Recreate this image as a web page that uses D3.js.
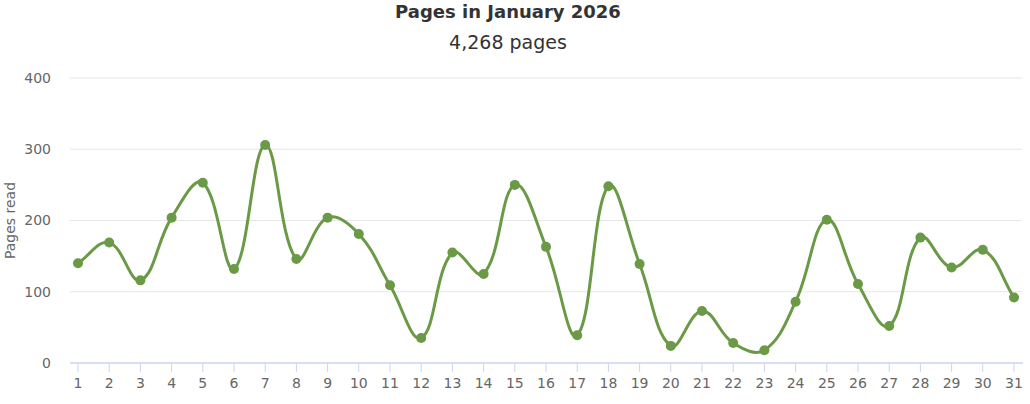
<!DOCTYPE html>
<html>
<head>
<meta charset="utf-8">
<script src="https://cdn.jsdelivr.net/npm/d3@7"></script>
<style>
  html, body { margin: 0; padding: 0; background: #fff; }
  svg { display: block; font-family: "DejaVu Sans", "Noto Sans", sans-serif; }
</style>
</head>
<body>
<svg id="chart" width="1030" height="404"></svg>
<script>
const titleText = "Pages in January 2026";
const subtitleText = "4,268 pages";
const yAxisTitle = "Pages read";
const days = ["1","2","3","4","5","6","7","8","9","10","11","12","13","14","15","16","17","18","19","20","21","22","23","24","25","26","27","28","29","30","31"];
const pages = [140,169,116,204,253,132,306,146,204,181,109,35,155,125,250,163,39,248,139,24,73,28,18,86,201,111,52,176,134,159,92];
const yTicks = [0,100,200,300,400];

const svg = d3.select("#chart");
const plot = { left: 70, right: 1022, top: 78, bottom: 363 };

const x = d3.scalePoint().domain(days).range([78, 1014]);
const y = d3.scaleLinear().domain([0, 400]).range([plot.bottom, plot.top]);

// Chart.js-like spline curve (tension 0.4)
function chartjsCurve(context) {
  let pts = [];
  return {
    lineStart() { pts = []; },
    lineEnd() {
      const t = 0.4, n = pts.length;
      if (!n) return;
      const cps = pts.map((p, i) => {
        const prev = pts[Math.max(0, i - 1)], next = pts[Math.min(n - 1, i + 1)];
        const d01 = Math.hypot(p[0] - prev[0], p[1] - prev[1]);
        const d12 = Math.hypot(next[0] - p[0], next[1] - p[1]);
        let s01 = d01 / (d01 + d12), s12 = d12 / (d01 + d12);
        if (!isFinite(s01)) s01 = 0; if (!isFinite(s12)) s12 = 0;
        const fa = t * s01, fb = t * s12;
        return {
          p: [p[0] - fa * (next[0] - prev[0]), p[1] - fa * (next[1] - prev[1])],
          n: [p[0] + fb * (next[0] - prev[0]), p[1] + fb * (next[1] - prev[1])]
        };
      });
      context.moveTo(pts[0][0], pts[0][1]);
      for (let i = 1; i < n; i++) {
        const a = cps[i - 1].n, b = cps[i].p;
        context.bezierCurveTo(a[0], a[1], b[0], b[1], pts[i][0], pts[i][1]);
      }
    },
    point(px, py) { pts.push([+px, +py]); },
    areaStart() {}, areaEnd() {}
  };
}

// Grid lines
svg.append("g").selectAll("line").data(yTicks.filter(d => d > 0)).join("line")
  .attr("x1", plot.left).attr("x2", plot.right)
  .attr("y1", d => y(d)).attr("y2", d => y(d))
  .attr("stroke", "#e6e6e6").attr("stroke-width", 1);

// Y tick labels
svg.append("g").selectAll("text").data(yTicks).join("text")
  .attr("x", 51).attr("y", d => y(d)).attr("dy", "0.35em")
  .attr("text-anchor", "end").attr("fill", "#666").attr("font-size", 14)
  .text(d => d);

// Y axis title
svg.append("text")
  .attr("transform", `translate(15,${(plot.top + plot.bottom) / 2}) rotate(-90)`)
  .attr("text-anchor", "middle").attr("fill", "#666").attr("font-size", 14)
  .text(yAxisTitle);

// X axis line
svg.append("line")
  .attr("x1", plot.left).attr("x2", plot.right + 1)
  .attr("y1", plot.bottom).attr("y2", plot.bottom)
  .attr("stroke", "#cdd5ee").attr("stroke-width", 1.5);

// X ticks
svg.append("g").selectAll("line").data(days).join("line")
  .attr("x1", d => x(d)).attr("x2", d => x(d))
  .attr("y1", plot.bottom).attr("y2", plot.bottom + 9)
  .attr("stroke", "#cdd5ee").attr("stroke-width", 1);

svg.append("g").selectAll("text").data(days).join("text")
  .attr("x", d => x(d)).attr("y", 388)
  .attr("text-anchor", "middle").attr("fill", "#666").attr("font-size", 14)
  .text(d => d);

// Line
const line = d3.line().x((d, i) => x(days[i])).y(d => y(d)).curve(chartjsCurve);
svg.append("path").datum(pages)
  .attr("d", line).attr("fill", "none")
  .attr("stroke", "#6b9a47").attr("stroke-width", 3);

// Points
svg.append("g").selectAll("circle").data(pages).join("circle")
  .attr("cx", (d, i) => x(days[i])).attr("cy", d => y(d)).attr("r", 5)
  .attr("fill", "#6b9a47");

// Titles
svg.append("text").attr("x", 508).attr("y", 18)
  .attr("text-anchor", "middle").attr("font-weight", "bold").attr("font-size", 18)
  .attr("fill", "#333").text(titleText);
svg.append("text").attr("x", 508).attr("y", 49)
  .attr("text-anchor", "middle").attr("font-size", 19)
  .attr("fill", "#333").text(subtitleText);
</script>
</body>
</html>
